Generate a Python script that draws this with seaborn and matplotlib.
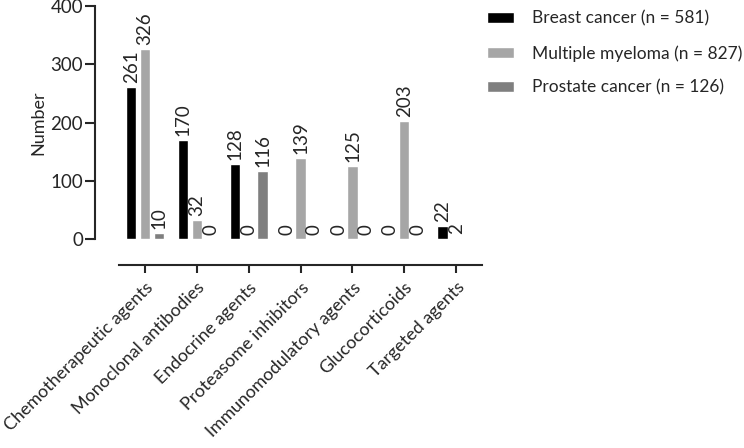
import pandas as pd
import numpy as np
import matplotlib
matplotlib.use("Agg")
import matplotlib.pyplot as plt
import seaborn as sns

# Data
categories = ["Chemotherapeutic agents", "Monoclonal antibodies", "Endocrine agents",
              "Proteasome inhibitors", "Immunomodulatory agents", "Glucocorticoids",
              "Targeted agents"]
breast = [261, 170, 128, 0, 0, 0, 22]
myeloma = [326, 32, 0, 139, 125, 203, 2]
prostate = [10, 0, 116, 0, 0, 0, np.nan]
series = ["Breast cancer (n = 581)", "Multiple myeloma (n = 827)", "Prostate cancer (n = 126)"]
colors = ["#000000", "#a6a6a6", "#7f7f7f"]

rows = []
for name, vals in zip(series, [breast, myeloma, prostate]):
    for cat, v in zip(categories, vals):
        if not np.isnan(v):
            rows.append({"category": cat, "group": name, "value": v})
df = pd.DataFrame(rows)

sns.set_style("ticks")
plt.rcParams["font.family"] = ["Lato", "DejaVu Sans"]
plt.rcParams["axes.linewidth"] = 1.5
fs = 12.5

fig = plt.figure(figsize=(7.44, 4.48), dpi=100)
ax = fig.add_axes([0.16, 0.4665, 0.488, 0.52])

sns.barplot(data=df, x="category", y="value", hue="group", order=categories,
            hue_order=series, palette=colors, width=0.8, gap=0.25,
            saturation=1, errorbar=None, ax=ax)

for cont in ax.containers:
    ax.bar_label(cont, fmt="%d", rotation=90, padding=3, fontsize=13.5)

# despine first: moving spines resets the tick labels (offset is in points)
sns.despine(ax=ax, offset={"left": 17, "bottom": 19})

ax.set_ylim(0, 400)
ax.set_xlim(-0.5, 6.5)
ax.set_yticks([0, 100, 200, 300, 400])
ax.set_xticks(range(len(categories)))
ax.set_xticklabels(categories, rotation=45, ha="right", rotation_mode="anchor")
ax.set_ylabel("Number", fontsize=13, labelpad=3)
ax.set_xlabel("")
ax.tick_params(axis="y", labelsize=13.5, width=1.5, length=7, pad=2)
ax.tick_params(axis="x", labelsize=12.9, width=1.5, length=6, pad=4)

leg = ax.legend(loc="upper left", bbox_to_anchor=(0.995, 1.01), frameon=False,
                fontsize=fs, handlelength=1.55, handleheight=0.6,
                labelspacing=1.05, handletextpad=1.0, borderaxespad=0)

fig.savefig("out.png", dpi=100)
